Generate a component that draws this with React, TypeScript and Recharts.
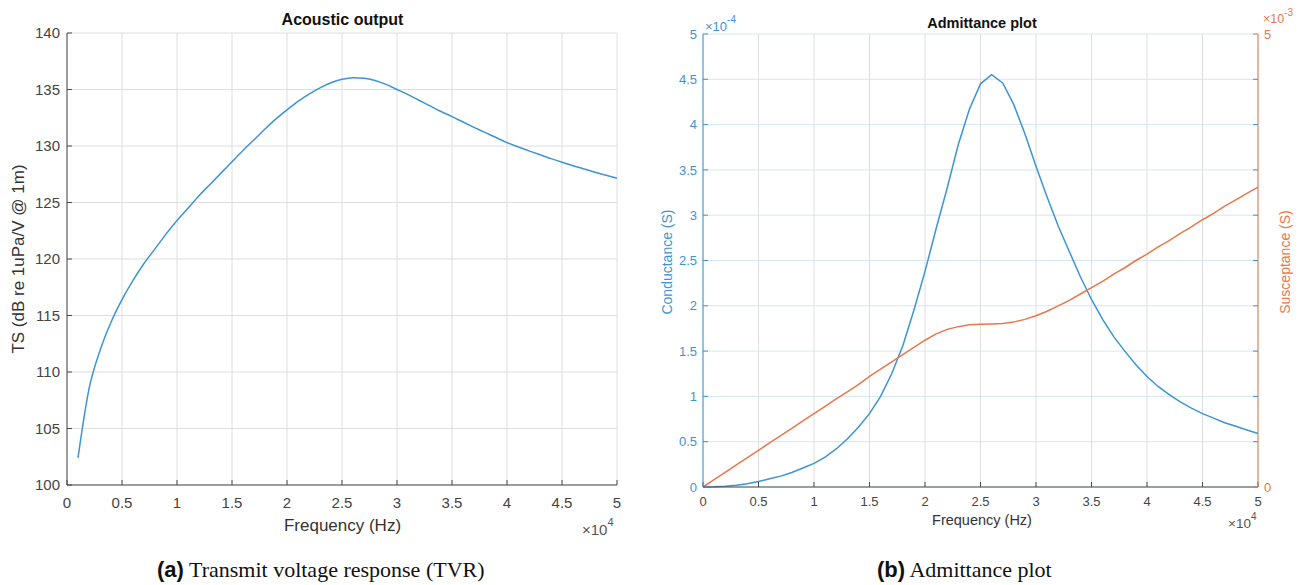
import { LineChart, Line, XAxis, YAxis, CartesianGrid } from "recharts";

const sans = "'Liberation Sans', Arial, Helvetica, sans-serif";
const serif = "'Liberation Serif', 'Times New Roman', serif";

const BLUE = "#3d94d3";
const ORANGE = "#e8774c";
const AXIS = "#4a4a4a";
const GRID = "#dedede";
const GRID_BLUE = "#d5e6f4";

// tick values (frequency axis in units of 1e4 Hz)
const freqTicks = [0, 0.5, 1, 1.5, 2, 2.5, 3, 3.5, 4, 4.5, 5];
const tvrTicks = [100, 105, 110, 115, 120, 125, 130, 135, 140];
const condTicks = [0, 0.5, 1, 1.5, 2, 2.5, 3, 3.5, 4, 4.5, 5];
const suscTicks = [0, 5];

// (a) transmit voltage response, dB re 1uPa/V @ 1m
const tvrFreq = [
  0.1, 0.2, 0.3, 0.4, 0.5, 0.6, 0.7, 0.8, 0.9, 1.0,
  1.1, 1.2, 1.3, 1.4, 1.5, 1.6, 1.7, 1.8, 1.9, 2.0,
  2.1, 2.2, 2.3, 2.4, 2.5, 2.6, 2.7, 2.8, 2.9, 3.0,
  3.1, 3.2, 3.3, 3.4, 3.5, 3.6, 3.7, 3.8, 3.9, 4.0,
  4.1, 4.2, 4.3, 4.4, 4.5, 4.6, 4.7, 4.8, 4.9, 5.0,
];
const tvrLevel = [
  102.4, 108.5, 111.9, 114.4, 116.4, 118.1, 119.6, 120.9, 122.2, 123.4,
  124.5, 125.6, 126.6, 127.6, 128.6, 129.6, 130.55, 131.5, 132.4, 133.2,
  133.95, 134.6, 135.15, 135.6, 135.9, 136.05, 136.0, 135.8, 135.45, 135.0,
  134.55, 134.05, 133.55, 133.05, 132.6, 132.12, 131.65, 131.2, 130.75, 130.3,
  129.92, 129.57, 129.22, 128.88, 128.56, 128.26, 127.96, 127.68, 127.41, 127.14,
];

// (b) admittance: conductance (x1e-4 S) and susceptance (x1e-3 S)
const admFreq = [
  0, 0.1, 0.2, 0.3, 0.4, 0.5, 0.6, 0.7, 0.8, 0.9, 1.0,
  1.1, 1.2, 1.3, 1.4, 1.5, 1.6, 1.7, 1.8, 1.9, 2.0,
  2.1, 2.2, 2.3, 2.4, 2.5, 2.6, 2.7, 2.8, 2.9, 3.0,
  3.1, 3.2, 3.3, 3.4, 3.5, 3.6, 3.7, 3.8, 3.9, 4.0,
  4.1, 4.2, 4.3, 4.4, 4.5, 4.6, 4.7, 4.8, 4.9, 5.0,
];
const conductance = [
  0, 0.002, 0.008, 0.02, 0.035, 0.06, 0.09, 0.12, 0.16, 0.21, 0.26,
  0.33, 0.42, 0.53, 0.66, 0.81, 1.0, 1.25, 1.56, 1.95, 2.38,
  2.85, 3.3, 3.78, 4.17, 4.45, 4.55, 4.46, 4.22, 3.9, 3.54,
  3.2, 2.88, 2.6, 2.32, 2.07, 1.85, 1.66, 1.5, 1.35, 1.22,
  1.11, 1.02, 0.94, 0.87, 0.81, 0.76, 0.71, 0.67, 0.63, 0.59,
];
const susceptance = [
  0, 0.081, 0.162, 0.243, 0.324, 0.405, 0.486, 0.567, 0.648, 0.729, 0.81,
  0.891, 0.972, 1.05, 1.13, 1.22, 1.3, 1.38, 1.46, 1.54, 1.62,
  1.69, 1.74, 1.77, 1.79, 1.795, 1.8, 1.805, 1.82, 1.85, 1.89,
  1.94, 2.0, 2.06, 2.13, 2.2, 2.27, 2.35, 2.42, 2.5, 2.57,
  2.65, 2.72, 2.8, 2.87, 2.95, 3.02, 3.1, 3.17, 3.24, 3.31,
];

const tvrData = tvrFreq.map((f, i) => ({ f, ts: tvrLevel[i] }));
const admData = admFreq.map((f, i) => ({ f, g: conductance[i], b: susceptance[i] }));

function TvrChart() {
  const tick = { fill: "#444", fontSize: 15, fontFamily: sans };
  return (
    <LineChart width={640} height={545} data={tvrData} margin={{ top: 33, right: 23, left: 0, bottom: 0 }}>
      <CartesianGrid stroke={GRID} />
      <XAxis dataKey="f" type="number" domain={[0, 5]} ticks={freqTicks} height={60} interval={0}
        stroke={AXIS} tick={tick} tickSize={-5} tickMargin={17} />
      <XAxis xAxisId="top" orientation="top" type="number" domain={[0, 5]} ticks={freqTicks} height={0} interval={0}
        stroke={AXIS} tick={false} tickSize={-5} />
      <YAxis type="number" domain={[100, 140]} ticks={tvrTicks} width={67} interval={0}
        stroke={AXIS} tick={tick} tickSize={-5} tickMargin={12} />
      <YAxis yAxisId="right" orientation="right" type="number" domain={[100, 140]} ticks={tvrTicks} width={0} interval={0}
        stroke={AXIS} tick={false} tickSize={-5} />
      <Line type="monotone" dataKey="ts" stroke={BLUE} strokeWidth={1.5} dot={false} isAnimationActive={false} />
    </LineChart>
  );
}

function AdmittanceChart() {
  const xtick = { fill: "#444", fontSize: 13, fontFamily: sans };
  return (
    <LineChart width={670} height={545} data={admData} margin={{ top: 34, right: 12, left: 0, bottom: 0 }}>
      <CartesianGrid stroke={GRID} horizontal={false} yAxisId="g" />
      <CartesianGrid stroke={GRID_BLUE} vertical={false} yAxisId="g" />
      <XAxis dataKey="f" type="number" domain={[0, 5]} ticks={freqTicks} height={58} interval={0}
        stroke={AXIS} tick={xtick} tickSize={-5} tickMargin={15} />
      <XAxis xAxisId="top" orientation="top" type="number" domain={[0, 5]} ticks={freqTicks} height={0} interval={0}
        stroke={AXIS} tick={false} tickSize={-5} />
      <YAxis yAxisId="g" type="number" domain={[0, 5]} ticks={condTicks} width={63} interval={0}
        stroke={BLUE} tick={{ fill: BLUE, fontSize: 13, fontFamily: sans }} tickSize={-5} tickMargin={11} />
      <YAxis yAxisId="b" orientation="right" type="number" domain={[0, 5]} ticks={suscTicks} width={40} interval={0}
        stroke={ORANGE} tick={{ fill: ORANGE, fontSize: 13, fontFamily: sans }} tickSize={-5} tickMargin={11} />
      <Line yAxisId="g" type="linear" dataKey="g" stroke={BLUE} strokeWidth={1.5} dot={false} isAnimationActive={false} />
      <Line yAxisId="b" type="linear" dataKey="b" stroke={ORANGE} strokeWidth={1.5} dot={false} isAnimationActive={false} />
    </LineChart>
  );
}

function Overlay() {
  // blue inward tick marks mirrored on the right edge of (b)
  const mirror = [0.5, 1, 1.5, 2, 2.5, 3, 3.5, 4, 4.5];
  return (
    <svg width={1310} height={585} style={{ position: "absolute", left: 0, top: 0, pointerEvents: "none" }}>
      {mirror.map((v) => {
        const y = 487 - (v / 5) * 453;
        return <line key={v} x1={1253} x2={1258} y1={y} y2={y} stroke={BLUE} strokeWidth={1} />;
      })}
      <g fontFamily={sans}>
        {/* (a) */}
        <text x={342.5} y={25} fontSize={16} fontWeight="bold" fill="#111" textAnchor="middle">Acoustic output</text>
        <text transform="translate(24,259) rotate(-90)" fontSize={17} fill="#333" textAnchor="middle">TS (dB re 1uPa/V @ 1m)</text>
        <text x={342.5} y={531} fontSize={17} fill="#333" textAnchor="middle">Frequency (Hz)</text>
        <text x={582} y={535} fontSize={15} fill="#555">×10<tspan dy={-9} fontSize={11}>4</tspan></text>
        {/* (b) */}
        <text x={982} y={28} fontSize={14.5} fontWeight="bold" fill="#111" textAnchor="middle">Admittance plot</text>
        <text transform="translate(672,262) rotate(-90)" fontSize={14} fill={BLUE} textAnchor="middle">Conductance (S)</text>
        <text transform="translate(1290,262) rotate(-90)" fontSize={14} fill={ORANGE} textAnchor="middle">Susceptance (S)</text>
        <text x={982} y={525} fontSize={14.5} fill="#333" textAnchor="middle">Frequency (Hz)</text>
        <text x={1228} y={528} fontSize={13.5} fill="#555">×10<tspan dy={-8} fontSize={10}>4</tspan></text>
        <text x={705} y={31} fontSize={13} fill={BLUE}>×10<tspan dy={-8} fontSize={10}>-4</tspan></text>
        <text x={1263} y={23} fontSize={12.5} fill={ORANGE}>×10<tspan dy={-7} fontSize={10}>-3</tspan></text>
      </g>
      <text x={157} y={577} fontSize={22} fill="#111">
        <tspan fontFamily={sans} fontWeight="bold">(a)</tspan>
        <tspan fontFamily={serif}> Transmit voltage response (TVR)</tspan>
      </text>
      <text x={877} y={577} fontSize={22} fill="#111">
        <tspan fontFamily={sans} fontWeight="bold">(b)</tspan>
        <tspan fontFamily={serif}> Admittance plot</tspan>
      </text>
    </svg>
  );
}

export default function App() {
  return (
    <div style={{ position: "absolute", left: 0, top: 0, width: 1310, height: 585, background: "#fff" }}>
      <div style={{ position: "absolute", left: 0, top: 0 }}>
        <TvrChart />
      </div>
      <div style={{ position: "absolute", left: 640, top: 0 }}>
        <AdmittanceChart />
      </div>
      <Overlay />
    </div>
  );
}
